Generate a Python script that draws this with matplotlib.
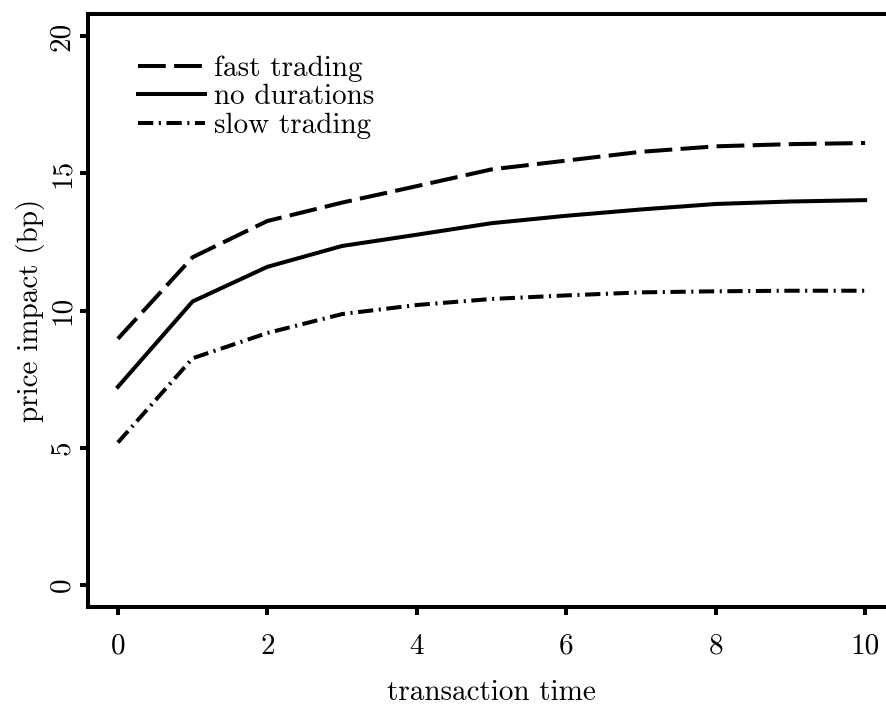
import numpy as np
import matplotlib
matplotlib.use("Agg")
import matplotlib.pyplot as plt

plt.rcParams['font.family'] = 'cmr10'
plt.rcParams['mathtext.fontset'] = 'cm'
plt.rcParams['axes.formatter.use_mathtext'] = True
plt.rcParams['lines.scale_dashes'] = False

# price impact by transaction time
steps = np.arange(0, 11)
fast_trading = [8.97, 11.94, 13.26, 13.93, 14.53, 15.14, 15.46, 15.78, 15.98, 16.06, 16.1]
no_durations = [7.22, 10.33, 11.59, 12.35, 12.76, 13.18, 13.45, 13.68, 13.88, 13.97, 14.02]
slow_trading = [5.19, 8.26, 9.18, 9.87, 10.2, 10.42, 10.55, 10.66, 10.7, 10.72, 10.72]

xticks = [0, 2, 4, 6, 8, 10]
yticks = [0, 5, 10, 15, 20]

fig = plt.figure(figsize=(8.87, 7.04), dpi=100)
ax = fig.add_axes([88 / 887, 97 / 704, (895 - 88) / 887, (607 - 14) / 704])

lw = 2.9
ax.plot(steps, fast_trading, color='black', lw=lw, dashes=(20, 6), label='fast trading')
ax.plot(steps, no_durations, color='black', lw=lw, label='no durations')
ax.plot(steps, slow_trading, color='black', lw=lw, dashes=(11, 4, 1.5, 4), label='slow trading')

ax.set_xlim(-0.4, 10.4)
ax.set_ylim(-0.8, 20.8)
ax.set_xticks(xticks)
ax.set_yticks(yticks)
ax.set_xticklabels([str(v) for v in xticks])
ax.set_yticklabels([str(v) for v in yticks], rotation=90, va='center')

for s in ax.spines.values():
    s.set_linewidth(2.9)
ax.tick_params(direction='out', length=6, width=2.9, labelsize=21)
ax.tick_params(axis='x', pad=13)
ax.tick_params(axis='y', pad=3)

ax.set_xlabel('transaction time', fontsize=21, labelpad=14)
ax.set_ylabel('price impact (bp)', fontsize=21, labelpad=3)

ax.legend(loc='upper left', bbox_to_anchor=(0.062, 0.93), frameon=False,
          fontsize=21, handlelength=2.3, handletextpad=0.3,
          labelspacing=0.07, borderpad=0, borderaxespad=0)

fig.savefig('out.png', dpi=100)
